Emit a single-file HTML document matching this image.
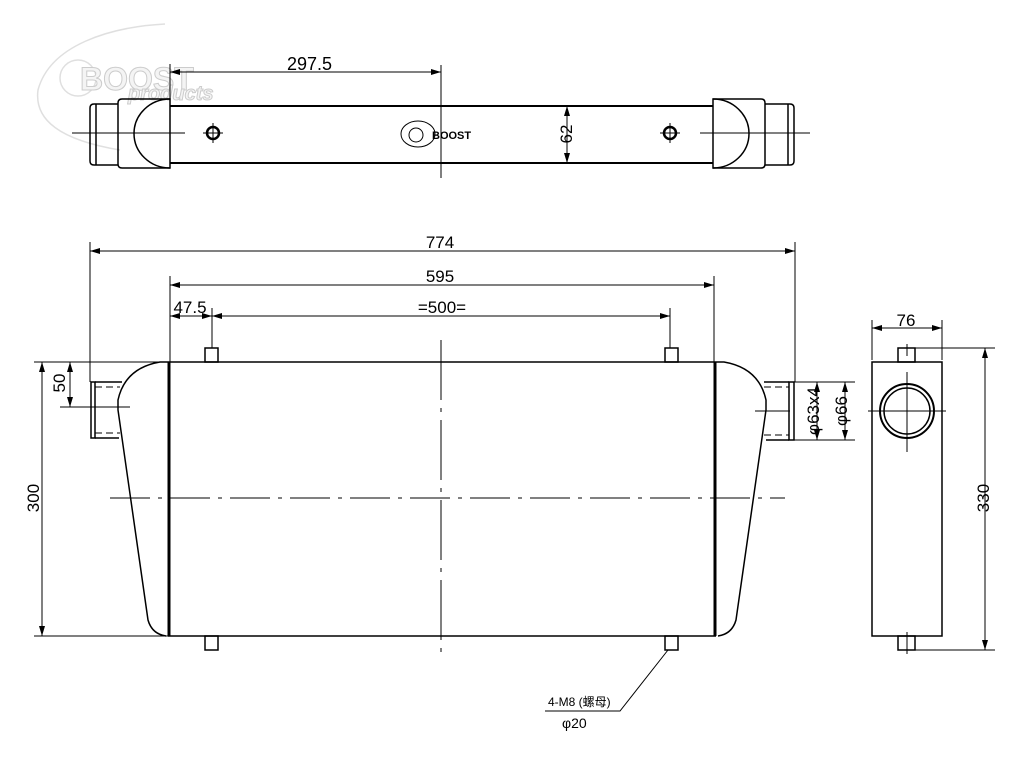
<!DOCTYPE html>
<html><head><meta charset="utf-8"><style>
html,body{margin:0;padding:0;background:#fff;}
svg{display:block;}
text{font-family:"Liberation Sans Narrow","Liberation Sans","Noto Sans CJK SC",sans-serif;fill:#000;}
</style></head><body>
<svg width="1024" height="768" viewBox="0 0 1024 768" xmlns="http://www.w3.org/2000/svg">
<defs>
<marker id="a" viewBox="0 0 10 6" refX="10" refY="3" markerWidth="10" markerHeight="6" orient="auto-start-reverse" markerUnits="userSpaceOnUse"><path d="M0,0 L10,3 L0,6 z" fill="#000"/></marker>
</defs>
<g opacity="0.3" fill="none" stroke="#999" stroke-width="1.5">
<path d="M165,24 C110,27 50,45 38,90 C34,120 60,140 120,150"/>
<circle cx="78" cy="78" r="18"/>
</g>
<text x="80" y="90" font-size="32" font-weight="bold" style="fill:#f4f4f4" stroke="#ccc" stroke-width="1">BOOST</text>
<text x="128" y="100" font-size="20" font-style="italic" font-weight="bold" style="fill:#f4f4f4" stroke="#ccc" stroke-width="1">products</text>

<g stroke="#000" fill="none" stroke-width="1.5">
<!-- TOP VIEW -->
<line x1="170" y1="106" x2="713" y2="106" stroke-width="2"/>
<line x1="170" y1="163" x2="713" y2="163" stroke-width="2"/>
<path d="M122,99 L170,99 L170,168 L122,168 Q118,168 118,164 L118,103 Q118,99 122,99 z"/>
<path d="M170,99 A36,34.5 0 0 0 170,168"/>
<path d="M118,104 L94,104 Q90,104 90,108 L90,161 Q90,165 94,165 L118,165"/>
<line x1="96" y1="104" x2="96" y2="165"/>
<path d="M761,99 L713,99 L713,168 L761,168 Q765,168 765,164 L765,103 Q765,99 761,99 z"/>
<path d="M713,99 A36,34.5 0 0 1 713,168"/>
<path d="M765,104 L790,104 Q794,104 794,108 L794,161 Q794,165 790,165 L765,165"/>
<line x1="788" y1="104" x2="788" y2="165"/>
<line x1="72" y1="133" x2="185" y2="133" stroke-width="1"/>
<line x1="700" y1="133" x2="810" y2="133" stroke-width="1"/>
<circle cx="213" cy="133" r="6" stroke-width="2.5"/><line x1="203" y1="133" x2="223" y2="133" stroke-width="1"/><line x1="213" y1="123" x2="213" y2="143" stroke-width="1"/>
<circle cx="670" cy="133" r="6" stroke-width="2.5"/><line x1="660" y1="133" x2="680" y2="133" stroke-width="1"/><line x1="670" y1="123" x2="670" y2="143" stroke-width="1"/>
<line x1="170" y1="64" x2="170" y2="99" stroke-width="1"/>
<line x1="441" y1="65" x2="441" y2="178" stroke-width="1"/>
<line x1="170" y1="72" x2="441" y2="72" stroke-width="1" marker-start="url(#a)" marker-end="url(#a)"/>
<line x1="567" y1="106" x2="567" y2="163" stroke-width="1" marker-start="url(#a)" marker-end="url(#a)"/>
<ellipse cx="418" cy="134" rx="17" ry="13" stroke-width="1"/>
<circle cx="416" cy="135" r="7" stroke-width="1"/>
</g>
<text x="432" y="139" font-size="11" font-weight="bold">BOOST</text>
<text x="287" y="70" font-size="18">297.5</text>
<text transform="translate(572,134) rotate(-90)" font-size="17" text-anchor="middle">62</text>

<g stroke="#000" fill="none" stroke-width="1.5">
<!-- FRONT VIEW -->
<line x1="168" y1="362" x2="716" y2="362"/>
<line x1="168" y1="636" x2="716" y2="636"/>
<line x1="169" y1="362" x2="169" y2="636" stroke-width="3"/>
<line x1="715" y1="362" x2="715" y2="636" stroke-width="3"/>
<path d="M168,362 L160,362 Q125,368 118,400 L118,410 L148,620 Q152,634 166,636"/>
<path d="M716,362 L724,362 Q759,368 766,400 L766,410 L736,620 Q732,634 718,636"/>
<rect x="91" y="382" width="4" height="56"/>
<line x1="95" y1="382" x2="122" y2="382"/><line x1="95" y1="438" x2="119" y2="438"/>
<line x1="95" y1="387" x2="120" y2="387" stroke-dasharray="7,4" stroke-width="1"/>
<line x1="95" y1="433" x2="120" y2="433" stroke-dasharray="7,4" stroke-width="1"/>
<rect x="789" y="382" width="5" height="58"/>
<line x1="764" y1="382" x2="789" y2="382"/><line x1="766" y1="440" x2="789" y2="440"/>
<line x1="764" y1="387" x2="789" y2="387" stroke-dasharray="7,4" stroke-width="1"/>
<line x1="764" y1="435" x2="789" y2="435" stroke-dasharray="7,4" stroke-width="1"/>
<line x1="60" y1="407" x2="130" y2="407" stroke-width="1"/>
<line x1="755" y1="411" x2="790" y2="411" stroke-width="1"/>
<line x1="110" y1="498" x2="785" y2="498" stroke-width="1" stroke-dasharray="40,8,4,8"/>
<line x1="441" y1="340" x2="441" y2="652" stroke-width="1" stroke-dasharray="60,8,4,8"/>
<rect x="205" y="348" width="13" height="14"/><rect x="665" y="348" width="13" height="14"/>
<rect x="205" y="636" width="13" height="14"/><rect x="665" y="636" width="13" height="14"/>
<g stroke-width="1">
<line x1="90" y1="242" x2="90" y2="382"/><line x1="795" y1="242" x2="795" y2="382"/>
<line x1="90" y1="251" x2="795" y2="251" marker-start="url(#a)" marker-end="url(#a)"/>
<line x1="170" y1="276" x2="170" y2="362"/><line x1="714" y1="276" x2="714" y2="362"/>
<line x1="170" y1="285" x2="714" y2="285" marker-start="url(#a)" marker-end="url(#a)"/>
<line x1="212" y1="308" x2="212" y2="348"/><line x1="670" y1="308" x2="670" y2="348"/>
<line x1="170" y1="316" x2="212" y2="316" marker-start="url(#a)" marker-end="url(#a)"/>
<line x1="212" y1="316" x2="670" y2="316" marker-start="url(#a)" marker-end="url(#a)"/>
<line x1="34" y1="362" x2="168" y2="362"/><line x1="34" y1="636" x2="168" y2="636"/>
<line x1="42" y1="362" x2="42" y2="636" marker-start="url(#a)" marker-end="url(#a)"/>
<line x1="70" y1="362" x2="70" y2="407" marker-start="url(#a)" marker-end="url(#a)"/>
<line x1="794" y1="382" x2="855" y2="382"/><line x1="794" y1="440" x2="855" y2="440"/>
<line x1="817" y1="382" x2="817" y2="440" marker-start="url(#a)" marker-end="url(#a)"/>
<line x1="845" y1="382" x2="845" y2="440" marker-start="url(#a)" marker-end="url(#a)"/>
</g>
<!-- SIDE VIEW -->
<rect x="872" y="362" width="70" height="274"/>
<rect x="898" y="348" width="17" height="14"/><rect x="898" y="636" width="17" height="14"/>
<circle cx="907" cy="411" r="27" stroke-width="2"/>
<circle cx="907" cy="411" r="23"/>
<line x1="868" y1="411" x2="946" y2="411" stroke-width="1"/>
<line x1="907" y1="372" x2="907" y2="452" stroke-width="1"/>
<line x1="907" y1="344" x2="907" y2="356" stroke-width="1"/><line x1="907" y1="632" x2="907" y2="654" stroke-width="1"/>
<g stroke-width="1">
<line x1="872" y1="320" x2="872" y2="360"/><line x1="942" y1="320" x2="942" y2="360"/>
<line x1="872" y1="328" x2="942" y2="328" marker-start="url(#a)" marker-end="url(#a)"/>
<line x1="915" y1="348" x2="995" y2="348"/><line x1="915" y1="650" x2="995" y2="650"/>
<line x1="985" y1="348" x2="985" y2="650" marker-start="url(#a)" marker-end="url(#a)"/>
<polyline points="668,650 620,711 545,711"/>
</g>
</g>
<g font-size="17">
<text x="440" y="248" text-anchor="middle">774</text>
<text x="440" y="282" text-anchor="middle">595</text>
<text x="190" y="313" text-anchor="middle">47.5</text>
<text x="442" y="313" text-anchor="middle">=500=</text>
<text x="906" y="326" text-anchor="middle">76</text>
<text transform="translate(39,498) rotate(-90)" text-anchor="middle">300</text>
<text transform="translate(65,383) rotate(-90)" text-anchor="middle">50</text>
<text transform="translate(819,411) rotate(-90)" text-anchor="middle">φ63x4</text>
<text transform="translate(847,411) rotate(-90)" text-anchor="middle">φ66</text>
<text transform="translate(989,498) rotate(-90)" text-anchor="middle">330</text>
</g>
<text x="548" y="706" font-size="12">4-M8 (螺母)</text>
<text x="562" y="728" font-size="14">φ20</text>
</svg>
</body></html>
